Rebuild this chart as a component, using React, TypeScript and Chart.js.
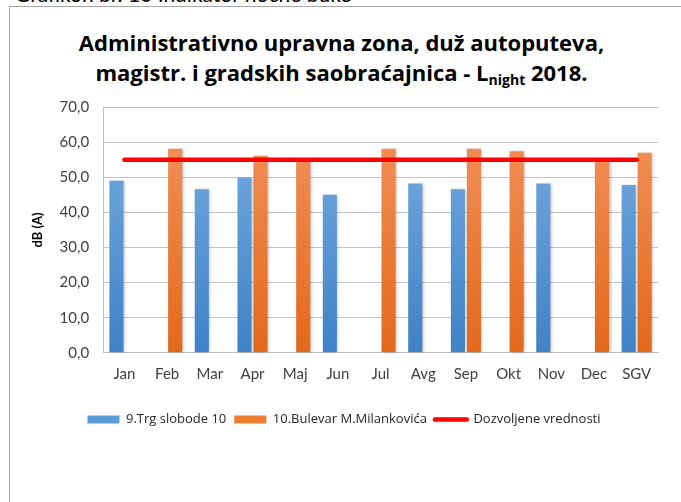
import React, { useEffect, useRef } from "react";
import { Chart, registerables } from "chart.js";

Chart.register(...registerables);

const categories = ["Jan", "Feb", "Mar", "Apr", "Maj", "Jun", "Jul", "Avg", "Sep", "Okt", "Nov", "Dec", "SGV"];
const trgSlobode: (number | null)[] = [49.0, null, 46.6, 49.9, null, 45.0, null, 48.2, 46.6, null, 48.2, null, 47.8];
const bulevar: (number | null)[] = [null, 58.1, null, 56.1, 55.3, null, 58.1, null, 58.1, 57.4, null, 55.0, 57.0];
const dozvoljene = [55, 55, 55, 55, 55, 55, 55, 55, 55, 55, 55, 55, 55];
const seriesNames = ["9.Trg slobode 10", "10.Bulevar M.Milankovića", "Dozvoljene vrednosti"];
const yMin = 0;
const yMax = 70;
const yStep = 10;

const FONT = "Lato, 'Open Sans', sans-serif";
const FONT2 = "'Open Sans', sans-serif";

function gradientFill(top: string, bottom: string, solid: string) {
  return (ctx: any) => {
    const chart = ctx.chart;
    const area = chart.chartArea;
    if (!area) return solid;
    const g = chart.ctx.createLinearGradient(0, area.top + (area.bottom - area.top) * 0.15, 0, area.bottom);
    g.addColorStop(0, top);
    g.addColorStop(1, bottom);
    return g;
  };
}

const shadowPlugin = {
  id: "barShadow",
  beforeDatasetDraw(chart: any, args: any) {
    if (args.meta.type === "bar") {
      const c = chart.ctx;
      c.save();
      c.shadowColor = "rgba(0,0,0,0.28)";
      c.shadowBlur = 3;
      c.shadowOffsetX = 1.5;
      c.shadowOffsetY = 0;
    }
  },
  afterDatasetDraw(chart: any, args: any) {
    if (args.meta.type === "bar") {
      chart.ctx.restore();
    }
  },
};

export default function App() {
  const canvasRef = useRef<HTMLCanvasElement | null>(null);

  useEffect(() => {
    if (!canvasRef.current) return;
    const chart = new Chart(canvasRef.current, {
      type: "bar",
      data: {
        labels: categories,
        datasets: [
          {
            type: "bar",
            label: seriesNames[0],
            data: trgSlobode,
            backgroundColor: gradientFill("#72a8de", "#3f82c6", "#5b9bd5"),
            borderWidth: 0,
            categoryPercentage: 0.75,
            barPercentage: 0.88,
            order: 1,
          },
          {
            type: "bar",
            label: seriesNames[1],
            data: bulevar,
            backgroundColor: gradientFill("#f18d55", "#e2691b", "#ed7d31"),
            borderWidth: 0,
            categoryPercentage: 0.75,
            barPercentage: 0.88,
            order: 1,
          },
          {
            type: "line",
            label: seriesNames[2],
            data: dozvoljene,
            borderColor: "#ff0000",
            backgroundColor: "#ff0000",
            borderWidth: 4.5,
            pointRadius: 0,
            borderCapStyle: "round",
            fill: false,
            order: -1,
          } as any,
        ],
      },
      options: {
        responsive: false,
        animation: false,
        events: [],
        layout: { padding: { top: 100, left: 21, right: 23, bottom: 66 } },
        scales: {
          x: {
            grid: { display: false, drawTicks: false },
            border: { display: true, color: "#bdbdbd", width: 1 },
            ticks: { color: "#404040", font: { family: FONT, size: 15 }, padding: 12 },
          },
          y: {
            min: yMin,
            max: yMax,
            grid: { color: "#c4c4c4", lineWidth: 1, drawTicks: false },
            border: { display: true, color: "#bdbdbd", width: 1 },
            ticks: {
              stepSize: yStep,
              color: "#404040",
              font: { family: FONT, size: 15 },
              padding: 14,
              callback: (v: any) => Number(v).toFixed(1).replace(".", ","),
            },
            title: {
              display: true,
              text: "dB (A)",
              color: "#000000",
              font: { family: FONT, size: 13, weight: "bold" },
              padding: 0,
            },
          },
        },
        plugins: {
          title: { display: false },
          tooltip: { enabled: false },
          legend: {
            display: true,
            position: "bottom",
            title: { display: true, text: "", font: { size: 1 }, padding: { top: 9, bottom: 0 } },
            labels: {
              usePointStyle: true,
              pointStyleWidth: 32,
              boxWidth: 32,
              boxHeight: 8,
              padding: 8,
              color: "#262626",
              font: { family: FONT2, size: 13 },
              sort: (a: any, b: any) => a.datasetIndex - b.datasetIndex,
              generateLabels: (ch: any) => {
                const items = Chart.defaults.plugins.legend.labels.generateLabels(ch);
                return items.map((it: any) => {
                  if (it.datasetIndex === 2) {
                    return { ...it, pointStyle: "line", lineWidth: 4.5, strokeStyle: "#ff0000", fillStyle: "#ff0000", lineCap: "round" };
                  }
                  const col = it.datasetIndex === 0 ? "#5b9bd5" : "#ed7d31";
                  return { ...it, pointStyle: "rect", lineWidth: 0, fillStyle: col, strokeStyle: col };
                });
              },
            },
          },
        },
      },
      plugins: [shadowPlugin],
    });
    return () => chart.destroy();
  }, []);

  return (
    <div style={{ position: "fixed", left: 0, top: 0, width: 681, height: 502, background: "#ffffff", overflow: "hidden" }}>
      <div
        style={{
          position: "absolute",
          left: 15,
          top: -17,
          fontFamily: FONT,
          fontSize: 21,
          lineHeight: "21px",
          color: "#000",
          whiteSpace: "nowrap",
        }}
      >
        Grafikon br. 10 Indikator noćne buke
      </div>
      <div
        style={{
          position: "absolute",
          left: 9,
          top: 6,
          right: 0,
          bottom: 0,
          borderLeft: "1px solid #a6a6a6",
          borderTop: "1px solid #a6a6a6",
        }}
      />
      <div
        style={{
          position: "absolute",
          left: 0,
          width: 683,
          top: 27,
          textAlign: "center",
          fontFamily: FONT2,
          fontWeight: 700,
          fontSize: 22,
          lineHeight: "30px",
          color: "#000",
        }}
      >
        <div>Administrativno upravna zona, duž autoputeva,</div>
        <div>
          magistr. i gradskih saobraćajnica - L<sub style={{ fontSize: 14, verticalAlign: "-4px", lineHeight: 0 }}>night</sub> 2018.
        </div>
      </div>
      <canvas ref={canvasRef} width={672} height={495} style={{ position: "absolute", left: 9, top: 7, width: 672, height: 495 }} />
    </div>
  );
}
